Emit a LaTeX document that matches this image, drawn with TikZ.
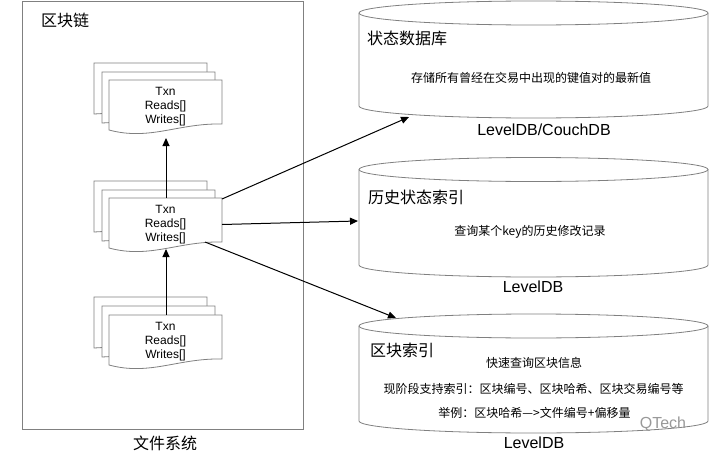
\documentclass[tikz,border=0pt]{standalone}
\usepackage{fontspec}
\usetikzlibrary{arrows.meta}
\setmainfont{Liberation Sans}
\newfontfamily\cjk{Noto Sans CJK SC}
\tikzset{
  x=1pt,y=-1pt,
  ln/.style={draw=black!50,line width=.8pt,fill=white},
  arr/.style={draw=black,line width=1pt,-{Triangle[length=8pt,width=7pt]}},
  lab/.style={inner sep=0pt,font=\fontsize{12}{13}\selectfont},
  head/.style={inner sep=0pt,anchor=west,font=\fontsize{16}{17}\cjk\selectfont},
  body/.style={inner sep=0pt,font=\fontsize{12}{13}\cjk\selectfont},
  captxt/.style={inner sep=0pt,font=\fontsize{16}{17}\selectfont},
}
\newcommand{\docstack}[3]{% name, y of back sheet top, y of front sheet top
  \begin{scope}[shift={(0,#2)}]
    \path[ln] (94,0) -- ++(113,0) -- ++(0,45) -- ++(-113,6) -- cycle;
    \path[ln] (102,9) -- ++(113,0) -- ++(0,45) -- ++(-113,6) -- cycle;
  \end{scope}
  \path[ln] (109,#3) -- ++(113,0) -- ++(0,44)
     .. controls +(-44,-1) and +(41,11) .. ++(-113,6) -- cycle;
  \coordinate (#1n) at (166,#3);
  \node[lab,align=center,text width=113pt] at (165.5,#3+26.5) {Txn\\[1pt]Reads[]\\[1pt]Writes[]};
}
\newcommand{\cyl}[2]{% top y centre, bottom y centre
  \path[ln] (359,#1) -- (359,#2) arc[x radius=174.5,y radius=12,start angle=180,end angle=0] -- (708,#1);
  \path[ln] (533.5,#1) ellipse[x radius=174.5,y radius=12];
}
\begin{document}
\begin{tikzpicture}
\useasboundingbox (0,0) rectangle (710,455);
\fill[white] (0,0) rectangle (710,455);
\node[ln,minimum width=281pt,minimum height=428pt,inner sep=0pt] (chain) at (162.5,215) {};
\node[head] (chaint) at (41,20) {区块链};
\node[inner sep=0pt,font=\fontsize{16}{17}\cjk\selectfont] (fs) at (165,443) {文件系统};

\docstack{a}{63}{80}
\docstack{b}{181}{198}
\docstack{c}{297}{315}

\cyl{13}{106}
\cyl{169.5}{265}
\cyl{326}{421}

\node[head] (h1) at (367,38) {状态数据库};
\node[body] (t1) at (531,78) {存储所有曾经在交易中出现的键值对的最新值};
\node[captxt] (c1) at (544,130) {LevelDB/CouchDB};

\node[head] (h2) at (368,197) {历史状态索引};
\node[body] (t2) at (530,232) {查询某个key的历史修改记录};
\node[captxt] (c2) at (533,287) {LevelDB};

\node[head] (h3) at (370,350) {区块索引};
\node[body] (t3) at (534,363) {快速查询区块信息};
\node[body] (t4) at (533.5,389) {现阶段支持索引：区块编号、区块哈希、区块交易编号等};
\node[body] (t5) at (534.5,413) {举例：区块哈希—>文件编号+偏移量};
\node[captxt] (c3) at (534,443) {LevelDB};
\node[inner sep=0pt,text=black!40,font=\fontsize{16}{18}\selectfont] (wm) at (663,424) {QTech};

\coordinate (ba) at (166,138);
\coordinate (bb) at (166,249);
\coordinate (s1) at (222,199);
\coordinate (s2) at (222,224.5);
\coordinate (s3) at (205,242);
\coordinate (e1) at (409,117);
\coordinate (e2) at (358,221);
\coordinate (e3) at (396,318);
\draw[arr] (bn) -- (ba);
\draw[arr] (cn) -- (bb);
\draw[arr] (s1) -- (e1);
\draw[arr] (s2) -- (e2);
\draw[arr] (s3) -- (e3);
\end{tikzpicture}
\end{document}
